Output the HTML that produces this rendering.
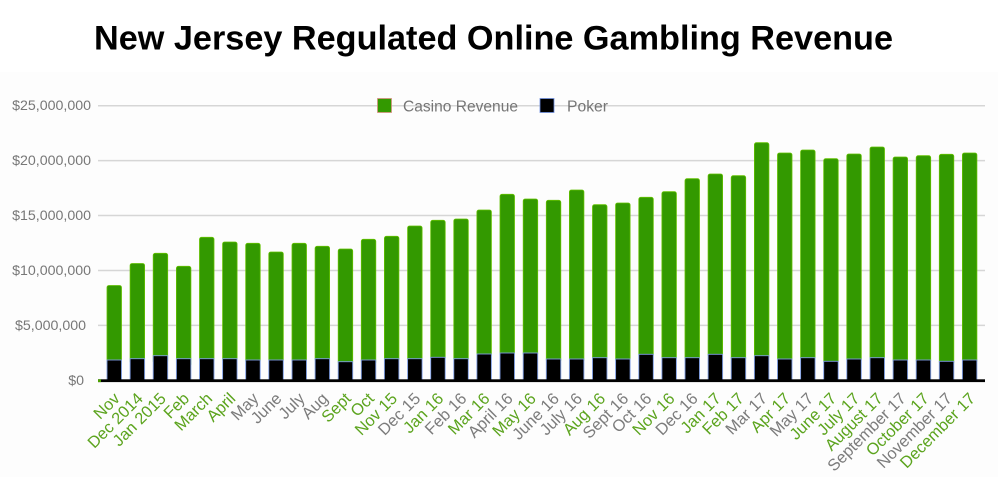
<!DOCTYPE html>
<html>
<head>
<meta charset="utf-8">
<style>
  html,body{margin:0;padding:0;background:#ffffff;}
  svg{display:block;}
  .yl{font-family:"Liberation Sans",Arial,sans-serif;font-size:14.2px;fill:#777777;text-anchor:end;}
  .xl{font-family:"Liberation Sans",Arial,sans-serif;font-size:16.4px;text-anchor:end;}
  .g{fill:#5ca41e;}
  .k{fill:#7c7c7c;}
  .lg{font-family:"Liberation Sans",Arial,sans-serif;font-size:15.3px;fill:#767676;}
</style>
</head>
<body>
<svg width="998" height="483" viewBox="0 0 998 483" xmlns="http://www.w3.org/2000/svg">
  <rect x="0" y="0" width="998" height="483" fill="#ffffff"/>
  <rect x="0" y="72" width="998" height="405" fill="#fdfdfd"/>

  <!-- Title -->
  <text x="94" y="49.3" font-family="'Liberation Sans',Arial,sans-serif" font-weight="bold" font-size="34.5" fill="#000000" textLength="799" lengthAdjust="spacingAndGlyphs">New Jersey Regulated Online Gambling Revenue</text>

  <!-- Gridlines -->
  <g stroke="#d6d6d6" stroke-width="1.5">
    <line x1="98" y1="105.7" x2="985" y2="105.7"/>
    <line x1="98" y1="160.6" x2="985" y2="160.6"/>
    <line x1="98" y1="215.5" x2="985" y2="215.5"/>
    <line x1="98" y1="270.5" x2="985" y2="270.5"/>
    <line x1="98" y1="325.4" x2="985" y2="325.4"/>
  </g>

  <!-- Y labels -->
  <text class="yl" x="91" y="110.2">$25,000,000</text>
  <text class="yl" x="91" y="165.1">$20,000,000</text>
  <text class="yl" x="91" y="220.0">$15,000,000</text>
  <text class="yl" x="91" y="275.0">$10,000,000</text>
  <text class="yl" x="86" y="329.9">$5,000,000</text>
  <text class="yl" x="84" y="384.8">$0</text>

  <!-- Legend -->
  <rect x="377.5" y="98.5" width="14" height="14" fill="#339900" stroke="#d89080" stroke-width="0.8"/>
  <text class="lg" x="403" y="111.7" textLength="115" lengthAdjust="spacingAndGlyphs">Casino Revenue</text>
  <rect x="540" y="98.5" width="14" height="14" fill="#000000" stroke="#6f8fe0" stroke-width="0.8"/>
  <text class="lg" x="567" y="111.7" textLength="41" lengthAdjust="spacingAndGlyphs">Poker</text>

  <!-- Bars -->
  <g id="bars">
    <g fill="#339900" stroke="#62c000" stroke-width="0.8">
      <rect x="107.0" y="285.5" width="14.5" height="80" rx="2"/>
      <rect x="130.1" y="263.5" width="14.5" height="100" rx="2"/>
      <rect x="153.2" y="253.3" width="14.5" height="110" rx="2"/>
      <rect x="176.4" y="266.3" width="14.5" height="100" rx="2"/>
      <rect x="199.5" y="237.3" width="14.5" height="125" rx="2"/>
      <rect x="222.6" y="242.0" width="14.5" height="120" rx="2"/>
      <rect x="245.7" y="243.3" width="14.5" height="120" rx="2"/>
      <rect x="268.8" y="252.0" width="14.5" height="110" rx="2"/>
      <rect x="292.0" y="243.3" width="14.5" height="120" rx="2"/>
      <rect x="315.1" y="246.3" width="14.5" height="115" rx="2"/>
      <rect x="338.2" y="249.0" width="14.5" height="115" rx="2"/>
      <rect x="361.3" y="239.3" width="14.5" height="125" rx="2"/>
      <rect x="384.4" y="236.3" width="14.5" height="125" rx="2"/>
      <rect x="407.6" y="226.0" width="14.5" height="135" rx="2"/>
      <rect x="430.7" y="220.3" width="14.5" height="140" rx="2"/>
      <rect x="453.8" y="219.0" width="14.5" height="142" rx="2"/>
      <rect x="476.9" y="210.0" width="14.5" height="147" rx="2"/>
      <rect x="500.0" y="194.3" width="14.5" height="162" rx="2"/>
      <rect x="523.2" y="199.0" width="14.5" height="157" rx="2"/>
      <rect x="546.3" y="200.3" width="14.5" height="162" rx="2"/>
      <rect x="569.4" y="190.0" width="14.5" height="172" rx="2"/>
      <rect x="592.5" y="204.7" width="14.5" height="156" rx="2"/>
      <rect x="615.6" y="203.0" width="14.5" height="159" rx="2"/>
      <rect x="638.8" y="197.3" width="14.5" height="160" rx="2"/>
      <rect x="661.9" y="191.7" width="14.5" height="169" rx="2"/>
      <rect x="685.0" y="178.7" width="14.5" height="182" rx="2"/>
      <rect x="708.1" y="174.0" width="14.5" height="183" rx="2"/>
      <rect x="731.2" y="175.7" width="14.5" height="185" rx="2"/>
      <rect x="754.4" y="142.7" width="14.5" height="216" rx="2"/>
      <rect x="777.5" y="153.0" width="14.5" height="209" rx="2"/>
      <rect x="800.6" y="150.0" width="14.5" height="211" rx="2"/>
      <rect x="823.7" y="158.7" width="14.5" height="205" rx="2"/>
      <rect x="846.8" y="154.0" width="14.5" height="208" rx="2"/>
      <rect x="870.0" y="147.0" width="14.5" height="214" rx="2"/>
      <rect x="893.1" y="157.0" width="14.5" height="206" rx="2"/>
      <rect x="916.2" y="155.7" width="14.5" height="207" rx="2"/>
      <rect x="939.3" y="154.3" width="14.5" height="210" rx="2"/>
      <rect x="962.4" y="153.0" width="14.5" height="210" rx="2"/>
    </g>
    <g fill="#000000" stroke="#7f9de3" stroke-width="0.9">
      <rect x="107.0" y="360.0" width="14.5" height="20"/>
      <rect x="130.1" y="358.7" width="14.5" height="21.3"/>
      <rect x="153.2" y="355.7" width="14.5" height="24.3"/>
      <rect x="176.4" y="358.7" width="14.5" height="21.3"/>
      <rect x="199.5" y="358.7" width="14.5" height="21.3"/>
      <rect x="222.6" y="358.7" width="14.5" height="21.3"/>
      <rect x="245.7" y="360.0" width="14.5" height="20"/>
      <rect x="268.8" y="360.0" width="14.5" height="20"/>
      <rect x="292.0" y="360.0" width="14.5" height="20"/>
      <rect x="315.1" y="358.7" width="14.5" height="21.3"/>
      <rect x="338.2" y="361.7" width="14.5" height="18.3"/>
      <rect x="361.3" y="360.0" width="14.5" height="20"/>
      <rect x="384.4" y="358.7" width="14.5" height="21.3"/>
      <rect x="407.6" y="358.7" width="14.5" height="21.3"/>
      <rect x="430.7" y="357.3" width="14.5" height="22.7"/>
      <rect x="453.8" y="358.7" width="14.5" height="21.3"/>
      <rect x="476.9" y="354.0" width="14.5" height="26"/>
      <rect x="500.0" y="353.0" width="14.5" height="27"/>
      <rect x="523.2" y="353.0" width="14.5" height="27"/>
      <rect x="546.3" y="359.0" width="14.5" height="21"/>
      <rect x="569.4" y="359.0" width="14.5" height="21"/>
      <rect x="592.5" y="357.7" width="14.5" height="22.3"/>
      <rect x="615.6" y="359.0" width="14.5" height="21"/>
      <rect x="638.8" y="354.3" width="14.5" height="25.7"/>
      <rect x="661.9" y="357.7" width="14.5" height="22.3"/>
      <rect x="685.0" y="357.7" width="14.5" height="22.3"/>
      <rect x="708.1" y="354.3" width="14.5" height="25.7"/>
      <rect x="731.2" y="357.7" width="14.5" height="22.3"/>
      <rect x="754.4" y="355.7" width="14.5" height="24.3"/>
      <rect x="777.5" y="359.0" width="14.5" height="21"/>
      <rect x="800.6" y="357.7" width="14.5" height="22.3"/>
      <rect x="823.7" y="361.3" width="14.5" height="18.7"/>
      <rect x="846.8" y="359.0" width="14.5" height="21"/>
      <rect x="870.0" y="357.7" width="14.5" height="22.3"/>
      <rect x="893.1" y="360.0" width="14.5" height="20"/>
      <rect x="916.2" y="360.0" width="14.5" height="20"/>
      <rect x="939.3" y="361.3" width="14.5" height="18.7"/>
      <rect x="962.4" y="360.0" width="14.5" height="20"/>
    </g>
  </g>

  <!-- Baseline -->
  <rect x="98" y="379.3" width="887" height="2.8" fill="#000000"/>
  <rect x="98" y="379.3" width="3" height="2.8" fill="#4ca000"/>

  <!-- X labels -->
  <g>
    <text class="xl g" transform="translate(120.8,399.5) rotate(-45)">Nov</text>
    <text class="xl g" transform="translate(143.9,399.5) rotate(-45)">Dec 2014</text>
    <text class="xl g" transform="translate(167.0,399.5) rotate(-45)">Jan 2015</text>
    <text class="xl g" transform="translate(190.2,399.5) rotate(-45)">Feb</text>
    <text class="xl g" transform="translate(213.3,399.5) rotate(-45)">March</text>
    <text class="xl g" transform="translate(236.4,399.5) rotate(-45)">April</text>
    <text class="xl k" transform="translate(259.5,399.5) rotate(-45)">May</text>
    <text class="xl k" transform="translate(282.6,399.5) rotate(-45)">June</text>
    <text class="xl k" transform="translate(305.8,399.5) rotate(-45)">July</text>
    <text class="xl k" transform="translate(328.9,399.5) rotate(-45)">Aug</text>
    <text class="xl g" transform="translate(352.0,399.5) rotate(-45)">Sept</text>
    <text class="xl g" transform="translate(375.1,399.5) rotate(-45)">Oct</text>
    <text class="xl g" transform="translate(398.2,399.5) rotate(-45)">Nov 15</text>
    <text class="xl k" transform="translate(421.4,399.5) rotate(-45)">Dec 15</text>
    <text class="xl g" transform="translate(444.5,399.5) rotate(-45)">Jan 16</text>
    <text class="xl k" transform="translate(467.6,399.5) rotate(-45)">Feb 16</text>
    <text class="xl g" transform="translate(490.7,399.5) rotate(-45)">Mar 16</text>
    <text class="xl k" transform="translate(513.8,399.5) rotate(-45)">April 16</text>
    <text class="xl g" transform="translate(537.0,399.5) rotate(-45)">May 16</text>
    <text class="xl k" transform="translate(560.1,399.5) rotate(-45)">June 16</text>
    <text class="xl k" transform="translate(583.2,399.5) rotate(-45)">July 16</text>
    <text class="xl g" transform="translate(606.3,399.5) rotate(-45)">Aug 16</text>
    <text class="xl k" transform="translate(629.4,399.5) rotate(-45)">Sept 16</text>
    <text class="xl k" transform="translate(652.6,399.5) rotate(-45)">Oct 16</text>
    <text class="xl g" transform="translate(675.7,399.5) rotate(-45)">Nov 16</text>
    <text class="xl k" transform="translate(698.8,399.5) rotate(-45)">Dec 16</text>
    <text class="xl g" transform="translate(721.9,399.5) rotate(-45)">Jan 17</text>
    <text class="xl g" transform="translate(745.0,399.5) rotate(-45)">Feb 17</text>
    <text class="xl k" transform="translate(768.2,399.5) rotate(-45)">Mar 17</text>
    <text class="xl g" transform="translate(791.3,399.5) rotate(-45)">Apr 17</text>
    <text class="xl k" transform="translate(814.4,399.5) rotate(-45)">May 17</text>
    <text class="xl g" transform="translate(837.5,399.5) rotate(-45)">June 17</text>
    <text class="xl g" transform="translate(860.6,399.5) rotate(-45)">July 17</text>
    <text class="xl g" transform="translate(883.8,399.5) rotate(-45)">August 17</text>
    <text class="xl k" transform="translate(906.9,399.5) rotate(-45)">September 17</text>
    <text class="xl g" transform="translate(930.0,399.5) rotate(-45)">October 17</text>
    <text class="xl k" transform="translate(953.1,399.5) rotate(-45)">November 17</text>
    <text class="xl g" transform="translate(976.2,399.5) rotate(-45)">December 17</text>
  </g>
</svg>
</body>
</html>
